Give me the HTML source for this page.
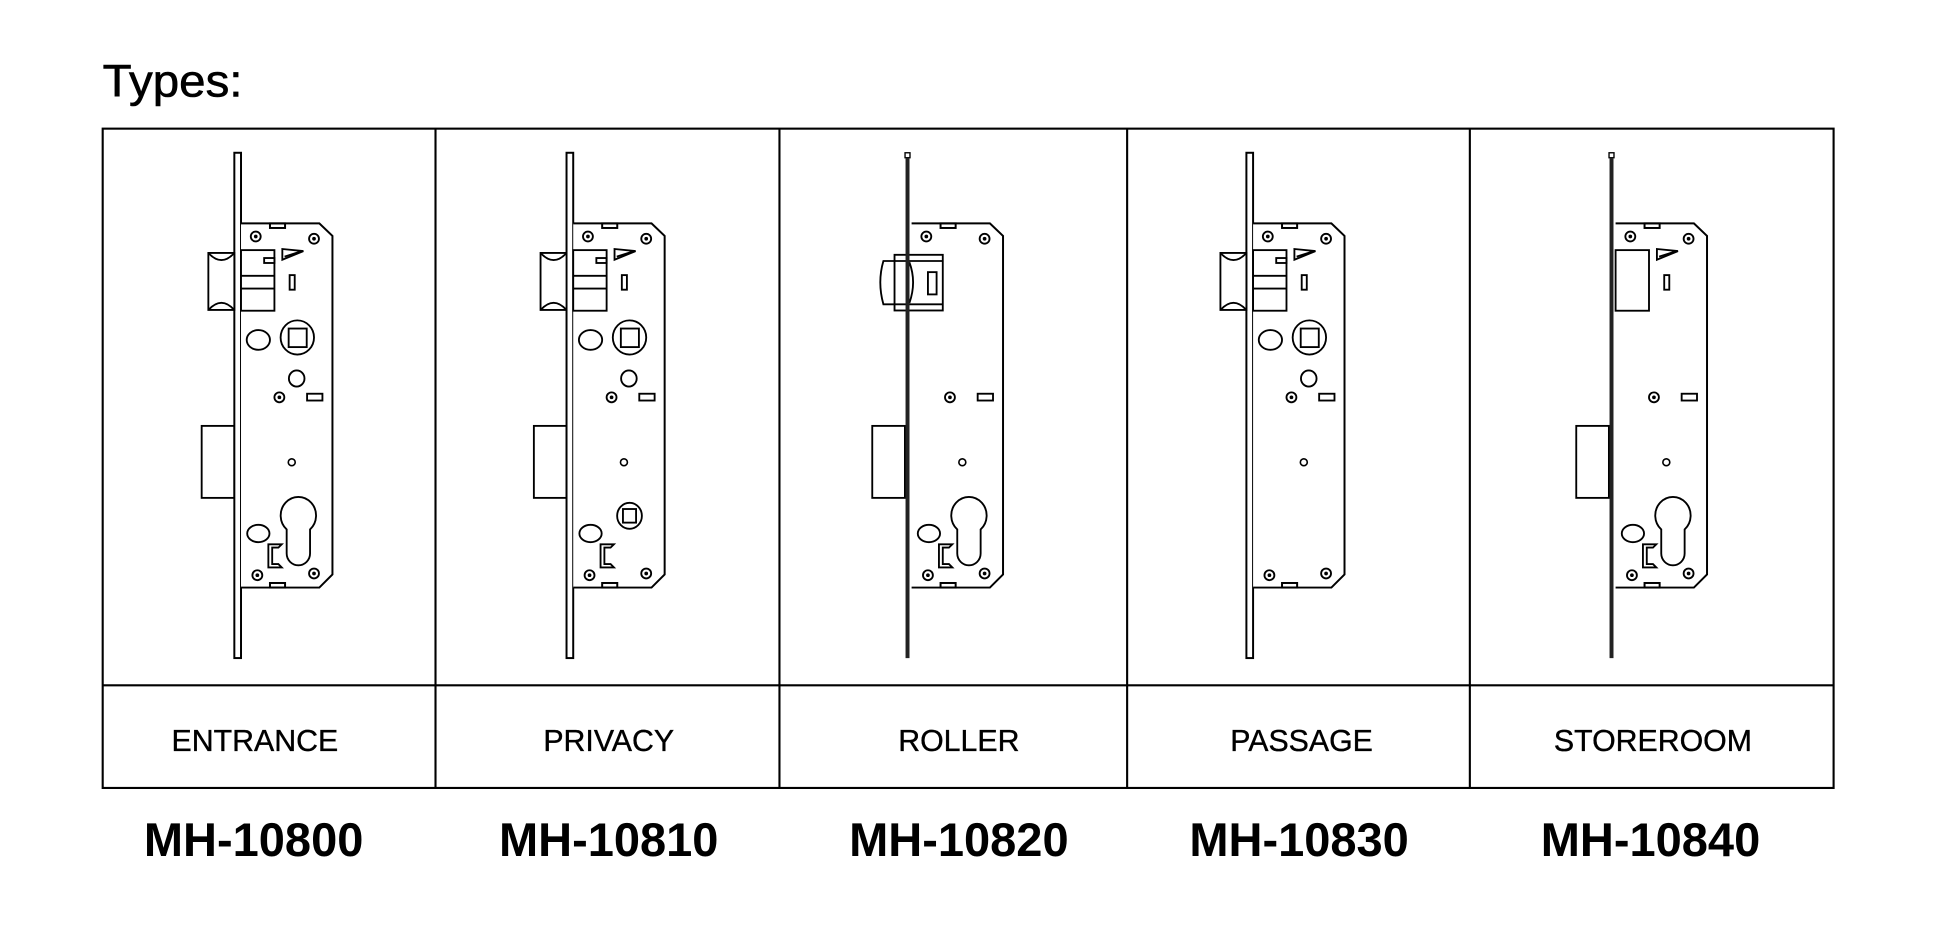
<!DOCTYPE html>
<html><head><meta charset="utf-8"><style>
html,body{margin:0;padding:0;background:#fff;width:1940px;height:950px;overflow:hidden}
svg{display:block}
text{font-family:"Liberation Sans",Arial,sans-serif;fill:#000}
</style></head><body>
<svg width="1940" height="950" viewBox="0 0 1568 768" preserveAspectRatio="none" xmlns="http://www.w3.org/2000/svg">
<defs>
<g id="screw"><circle r="4" fill="none" stroke="#000" stroke-width="1.5"/><circle r="1.5" fill="#000"/></g>
<g id="plate"><rect x="189.4" y="123.5" width="5.4" height="408.5" fill="#fff" stroke="#000" stroke-width="1.6"/></g>
<g id="thinplate"><rect x="731.5" y="123.5" width="4" height="4" fill="#fff" stroke="#000" stroke-width="1.1"/><line x1="733.5" y1="127.5" x2="733.5" y2="532" stroke="#222" stroke-width="3.2"/></g>
<g id="case" fill="none" stroke="#000" stroke-width="1.6">
<path d="M194.8 180.6 H258.1 L268.7 190.7 V464.4 L258.1 475 H194.8" fill="#fff"/>
<rect x="218.2" y="180.6" width="12.2" height="3.7"/>
<rect x="218.2" y="471.3" width="12.2" height="3.7"/>
</g>
<g id="topscrews"><use href="#screw" x="206.7" y="191.2"/><use href="#screw" x="253.8" y="193"/></g>
<g id="botscrews"><use href="#screw" x="208" y="465"/><use href="#screw" x="253.8" y="463.6"/></g>
<g id="tri" fill="none" stroke="#000" stroke-width="1.5">
<polygon points="228.2,201.3 245.2,203 228.2,210"/><line x1="230" y1="207.5" x2="243" y2="203.3"/>
<rect x="234.1" y="222.4" width="4.1" height="11.8"/>
</g>
<g id="latch" fill="none" stroke="#000" stroke-width="1.5">
<path d="M168.4 204.5 H189.4 V250.6 H168.4 Z" fill="#fff"/>
<path d="M168.4 204.5 Q179 216 189.4 204.5 M168.4 250.6 Q179 239 189.4 250.6"/>
<rect x="194.8" y="202.2" width="27" height="49"/>
<line x1="194.8" y1="223" x2="221.8" y2="223"/><line x1="194.8" y1="233.3" x2="221.8" y2="233.3"/>
<rect x="213.5" y="208.6" width="8.3" height="4"/>
</g>
<g id="hub" fill="none" stroke="#000" stroke-width="1.5">
<ellipse cx="208.8" cy="274.8" rx="9.4" ry="8"/>
<ellipse cx="240.3" cy="272.8" rx="13.5" ry="13.8"/>
<rect x="233.3" y="265.6" width="14.6" height="15"/>
</g>
<g id="midcircle"><ellipse cx="239.8" cy="306" rx="6.3" ry="6.5" fill="none" stroke="#000" stroke-width="1.5"/></g>
<g id="midscrew"><use href="#screw" x="225.8" y="321.2"/><rect x="248.2" y="318.3" width="12.4" height="5.5" fill="none" stroke="#000" stroke-width="1.5"/><circle cx="235.8" cy="373.7" r="2.8" fill="none" stroke="#000" stroke-width="1.3"/></g>
<g id="dead"><rect x="163" y="344.3" width="26.4" height="58.2" fill="#fff" stroke="#000" stroke-width="1.5"/></g>
<g id="cyl" fill="none" stroke="#000" stroke-width="1.5">
<path d="M231.7 428 A14.3 15 0 1 1 250.6 428 V447.5 A9.45 9.5 0 0 1 231.7 447.5 Z"/>
</g>
<g id="lowoval" fill="none" stroke="#000" stroke-width="1.5">
<ellipse cx="208.8" cy="431.3" rx="9" ry="7"/>
<path d="M227.7 440 H216.9 V458.7 H227.7 L225 456 H220 V442.7 H225 Z"/>
</g>
</defs>

<text x="83" y="78" font-size="37" textLength="113" lengthAdjust="spacingAndGlyphs" stroke="#000" stroke-width="0.5">Types:</text>

<g fill="none" stroke="#000" stroke-width="1.7">
<rect x="83" y="104" width="1399" height="533"/>
<line x1="83" y1="554" x2="1482" y2="554"/>
<line x1="352" y1="104" x2="352" y2="637"/>
<line x1="630" y1="104" x2="630" y2="637"/>
<line x1="911" y1="104" x2="911" y2="637"/>
<line x1="1188" y1="104" x2="1188" y2="637"/>
</g>

<g>
<use href="#dead"/><use href="#plate"/><use href="#case"/>
<use href="#latch"/><use href="#topscrews"/><use href="#tri"/><use href="#hub"/><use href="#midcircle"/>
<use href="#midscrew"/><use href="#cyl"/><use href="#lowoval"/><use href="#botscrews"/>
</g>
<g transform="translate(268.5,0)">
<use href="#dead"/><use href="#plate"/><use href="#case"/>
<use href="#latch"/><use href="#topscrews"/><use href="#tri"/><use href="#hub"/><use href="#midcircle"/>
<use href="#midscrew"/>
<g fill="none" stroke="#000" stroke-width="1.5"><ellipse cx="240.3" cy="417" rx="10" ry="10.5"/><rect x="235" y="411.5" width="10.6" height="11"/></g>
<use href="#lowoval"/><use href="#botscrews"/>
</g>
<g transform="translate(542,0)">
<use href="#dead"/><use href="#case"/><use href="#topscrews"/><use href="#midscrew"/><use href="#cyl"/><use href="#lowoval"/><use href="#botscrews"/>
<g fill="none" stroke="#000" stroke-width="1.5">
<rect x="181" y="206" width="39" height="45" fill="#fff"/>
<path d="M181 211 H172 Q167 228 172 246 H181"/>
<path d="M193 212 Q199 228 193 245"/>
<line x1="181" y1="211" x2="220" y2="211"/><line x1="181" y1="246" x2="220" y2="246"/>
<rect x="208" y="220" width="7" height="18"/>
</g>
</g>
<use href="#thinplate"/>
<g transform="translate(818,0)">
<use href="#plate"/><use href="#case"/>
<use href="#latch"/><use href="#topscrews"/><use href="#tri"/><use href="#hub"/><use href="#midcircle"/>
<use href="#midscrew"/><use href="#botscrews"/>
</g>
<g transform="translate(1111,0)">
<use href="#dead"/><use href="#case"/><use href="#topscrews"/><use href="#tri"/>
<rect x="194.8" y="202.2" width="27" height="49" fill="none" stroke="#000" stroke-width="1.5"/>
<use href="#midscrew"/><use href="#cyl"/><use href="#lowoval"/><use href="#botscrews"/>
</g>
<g transform="translate(569,0)"><use href="#thinplate"/></g>

<g font-size="24.5" text-anchor="middle" stroke="#000" stroke-width="0.3">
<text x="206" y="607">ENTRANCE</text>
<text x="492" y="607">PRIVACY</text>
<text x="775" y="607">ROLLER</text>
<text x="1052" y="607">PASSAGE</text>
<text x="1336" y="607">STOREROOM</text>
</g>
<g font-size="38" font-weight="bold" text-anchor="middle">
<text x="205" y="692">MH-10800</text>
<text x="492" y="692">MH-10810</text>
<text x="775" y="692">MH-10820</text>
<text x="1050" y="692">MH-10830</text>
<text x="1334" y="692">MH-10840</text>
</g>
</svg>
</body></html>
